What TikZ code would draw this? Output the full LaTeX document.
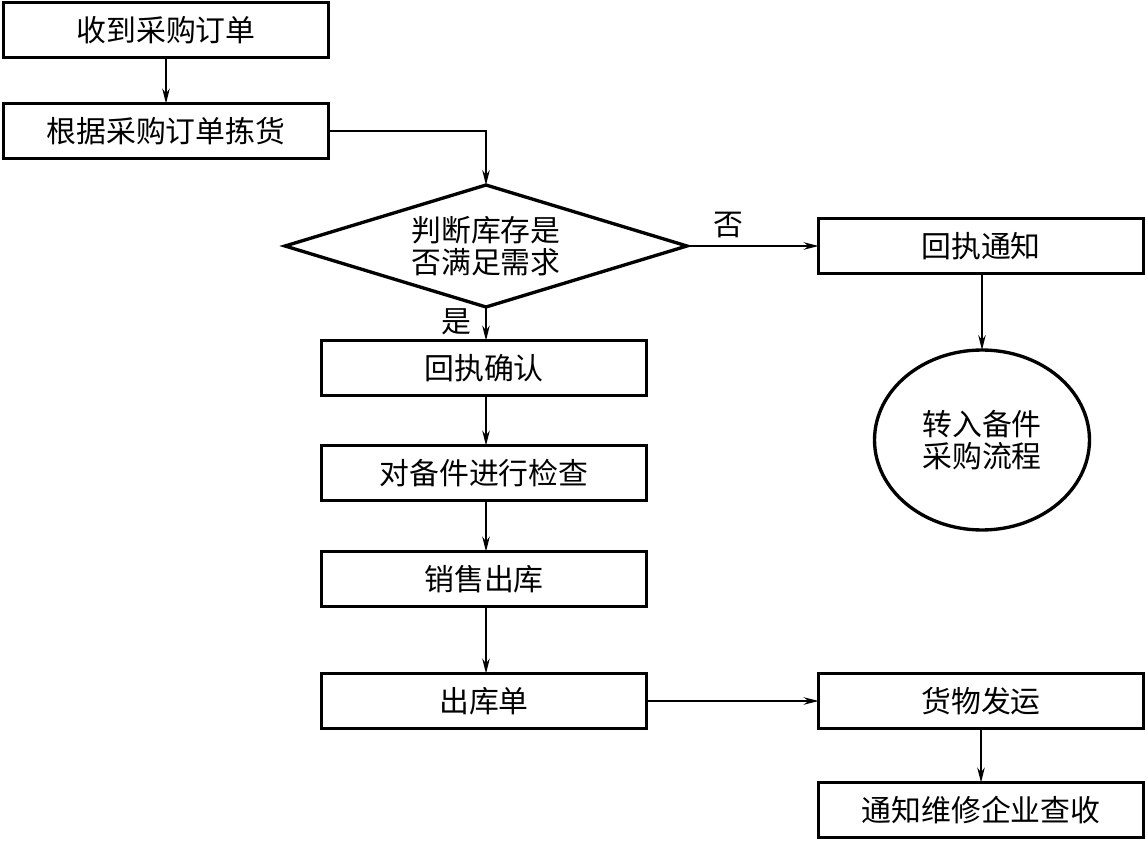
\documentclass[tikz,border=0pt]{standalone}
\usepackage{fontspec}
\newfontfamily\cjk{Noto Sans CJK SC}
\usetikzlibrary{shapes.geometric,arrows.meta}
\begin{document}
\begin{tikzpicture}[x=0.02cm,y=-0.02cm,
  font=\cjk\fontsize{17}{18.5}\selectfont,
  box/.style={draw,line width=1.9pt,minimum width=6.5cm,minimum height=1.1cm,inner sep=0pt,outer sep=0pt},
  dia/.style={draw,diamond,line width=1.9pt,minimum width=8.04cm,minimum height=2.44cm,inner sep=0pt,outer sep=0pt,align=center,aspect=3.3},
  oval/.style={draw,ellipse,line width=1.9pt,minimum width=4.3cm,minimum height=3.6cm,inner sep=0pt,outer sep=0pt,align=center},
  conn/.style={line width=0.8pt,-{Stealth[length=0.3cm,width=0.15cm,inset=0.1cm]}},
  lbl/.style={inner sep=0pt}
]
\useasboundingbox (0,0) rectangle (1147,841);
\node[box] (a) at (166,30) {收到采购订单};
\node[box] (b) at (166,131) {根据采购订单拣货};
\node[dia] (d) at (486,246) {判断库存是\\否满足需求};
\node[box] (n) at (981,246) {回执通知};
\node[oval] (e) at (982,440) {转入备件\\采购流程};
\node[box] (c) at (484,368) {回执确认};
\node[box] (k) at (484,473) {对备件进行检查};
\node[box] (s) at (484,579) {销售出库};
\node[box] (o) at (484,701) {出库单};
\node[box] (f) at (981,701) {货物发运};
\node[box] (t) at (981,810) {通知维修企业查收};
\node[lbl] (no) at (728,225) {否};
\node[lbl] (yes) at (456,322) {是};
\draw[conn] (a) -- (b);
\draw[conn] (b.east) -| (d.north);
\draw[conn] (d.east) -- (n.west);
\draw[conn] (n.south -| e.north) -- (e.north);
\draw[conn] (d.south) -- (d.south |- c.north);
\draw[conn] (c.south -| d.south) -- (k.north -| d.south);
\draw[conn] (k.south -| d.south) -- (s.north -| d.south);
\draw[conn] (s.south -| d.south) -- (o.north -| d.south);
\draw[conn] (o.east) -- (f.west);
\draw[conn] (f) -- (t);
\end{tikzpicture}
\end{document}
